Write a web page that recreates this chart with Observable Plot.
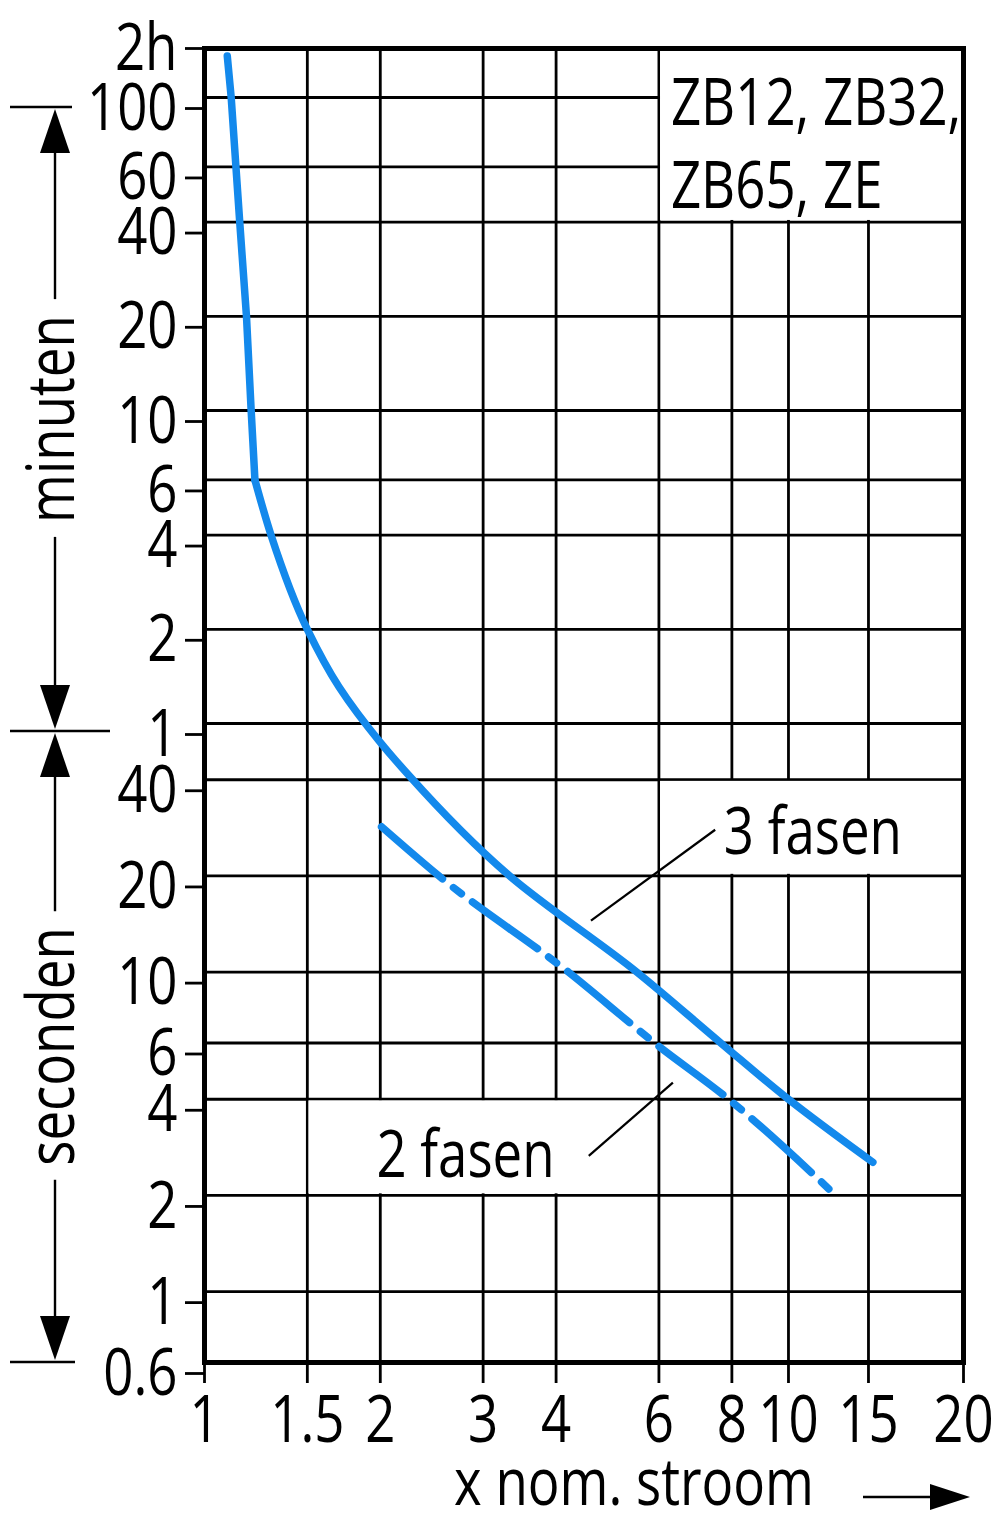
<!DOCTYPE html>
<html>
<head>
<meta charset="utf-8">
<script src="https://cdn.jsdelivr.net/npm/d3@7"></script>
<script src="https://cdn.jsdelivr.net/npm/@observablehq/plot@0.6"></script>
<style>
  html, body { margin: 0; padding: 0; background: #fff; }
  #chart svg { display: block; }
</style>
</head>
<body>
<div id="chart"></div>
<script>
// ---- axis ticks ----
const xTicks = [1, 1.5, 2, 3, 4, 6, 8, 10, 15, 20];
const xTickLabels = ["1", "1.5", "2", "3", "4", "6", "8", "10", "15", "20"];
// y ticks in seconds (0.6 s ... 2 h)
const yTicks = [0.6, 1, 2, 4, 6, 10, 20, 40, 60, 120, 240, 360, 600, 1200, 2400, 3600, 6000, 7200];
const yTickLabels = ["0.6", "1", "2", "4", "6", "10", "20", "40", "1", "2", "4", "6", "10", "20", "40", "60", "100", "2h"];

// ---- curves: multiple of nominal current vs trip time (s) ----
const threePhaseX = [1.094, 1.111, 1.132, 1.149, 1.18, 1.202, 1.22, 1.3, 1.5, 1.7, 2, 2.23, 3.33, 5.5, 7.66, 10, 15.2];
const threePhaseT = [7000, 6000, 3600, 2400, 1200, 600, 360, 240, 120, 78.5, 52.4, 41.6, 20, 10, 6, 4, 2.54];
const threePhaseKnee = 360;   // trip time where the steep branch bends
const twoPhaseX = [2.01, 2.52, 4.2, 5.9, 7.9, 12.9];
const twoPhaseT = [28.5, 20, 10, 6, 4, 1.96];

// ---- annotations ----
const legendText = "ZB12, ZB32,\nZB65, ZE";
const whiteCells = [
  {x1: 6, x2: 20, y1: 2400, y2: 7200},
  {x1: 6, x2: 20, y1: 20, y2: 40},
  {x1: 1.5, x2: 6, y1: 2, y2: 4}
];
const labelX = [6.29, 7.75, 1.97];
const labelT = [2670, 23.5, 2.28];
const labelTexts = [legendText, "3 fasen", "2 fasen"];
const leaders = [
  {x1: 4.59, y1: 14.5, x2: 7.49, y2: 27.9},
  {x1: 4.55, y1: 2.66, x2: 6.34, y2: 4.51}
];
const xAxisTitle = "x nom. stroom";
const minutesLabel = "minuten";
const secondsLabel = "seconden";

// ---- build tables ----
const threePhase = threePhaseX.map((x, i) => ({x, t: threePhaseT[i]}));
const threeUpper = threePhase.filter((d) => d.t >= threePhaseKnee);
const threeLower = threePhase.filter((d) => d.t <= threePhaseKnee);
const twoPhase = twoPhaseX.map((x, i) => ({x, t: twoPhaseT[i]}));
const labels = labelX.map((x, i) => ({x, t: labelT[i], text: labelTexts[i]}));
const xFmt = new Map(xTicks.map((v, i) => [v, xTickLabels[i]]));
const yFmt = new Map(yTicks.map((v, i) => [v, yTickLabels[i]]));
const yTop = yTicks[yTicks.length - 1];

// ---- layout ----
const W = 1000, H = 1525;
const mL = 204, mR = 37, mT = 48, mB = 163;
const pL = mL, pR = W - mR, pT = mT, pB = H - mB;
const FONT = "'Open Sans', 'Noto Sans', sans-serif";
const FS = 66;
const SX = 0.8;              // horizontal condensing of the lettering
const BLUE = "#1389ec";
const GRID = 2.8;

// piecewise log scales (the printed grid is slightly irregular at 15 and 2h)
const xRange = [pL, pL + 0.7694 * (pR - pL), pL + 0.8748 * (pR - pL), pR];
const yRange = [pB, pB - 0.4863 * (pB - pT), pB - 0.9627 * (pB - pT), pT];

const axisYOpts = {tickFormat: (d) => yFmt.get(d), tickSize: 19, tickPadding: 8, fontSize: FS, strokeWidth: GRID, label: null};
const curveStyle = {x: "x", y: "t", stroke: BLUE, strokeWidth: 7.5};

const chart = Plot.plot({
  width: W, height: H,
  marginLeft: mL, marginRight: mR, marginTop: mT, marginBottom: mB,
  style: {fontFamily: FONT, fontSize: FS + "px", color: "black", background: "white", overflow: "visible"},
  x: {type: "log", domain: [1, 10, 15, 20], range: xRange},
  y: {type: "log", domain: [0.6, 60, 6000, 7200], range: yRange},
  marks: [
    Plot.gridX(xTicks, {stroke: "black", strokeOpacity: 1, strokeWidth: GRID}),
    Plot.gridY(yTicks, {stroke: "black", strokeOpacity: 1, strokeWidth: GRID}),
    Plot.rect(whiteCells, {x1: "x1", x2: "x2", y1: "y1", y2: "y2", fill: "white", inset: 1.6}),
    Plot.frame({stroke: "black", strokeWidth: 5}),
    Plot.line(threeUpper, {...curveStyle, curve: "linear"}),
    Plot.line(threeLower, {...curveStyle, curve: "monotone-y"}),
    Plot.line(twoPhase, {...curveStyle, curve: "monotone-x", strokeDasharray: "80,14,10,14"}),
    Plot.link(leaders, {x1: "x1", y1: "y1", x2: "x2", y2: "y2", stroke: "black", strokeWidth: 2.2}),
    Plot.text(labels, {x: "x", y: "t", text: "text", textAnchor: "start", lineAnchor: "bottom", lineHeight: 1.25, fontSize: FS, fill: "black"}),
    Plot.axisX(xTicks, {tickFormat: (d) => xFmt.get(d), tickSize: 21, tickPadding: 12, fontSize: FS, strokeWidth: GRID, label: null}),
    Plot.axisY(yTicks.filter((v) => v !== yTop), {...axisYOpts, dy: 11}),
    Plot.axisY([yTop], {...axisYOpts, dy: 0})
  ]
});
document.getElementById("chart").appendChild(chart);

// condense all Plot lettering horizontally around its anchor
d3.select(chart).selectAll("text").each(function () {
  const t = this.getAttribute("transform") || "";
  this.setAttribute("transform", (t + ` scale(${SX},1)`).trim());
});

// ---- side annotations (minutes / seconds ranges, x title arrow) ----
const ys = chart.scale("y");
const svg = d3.select(chart);
const g = svg.append("g").attr("stroke", "black").attr("fill", "black");
const ax = 55;
const sepTop = ys.apply(6000) + 10;
const sepMid = ys.apply(60) + 8;
const sepBot = ys.apply(0.6);
const lw = 2.4;

function hline(y, x1, x2) {
  g.append("line").attr("x1", x1).attr("x2", x2).attr("y1", y).attr("y2", y).attr("stroke-width", lw);
}
function vline(y1, y2) {
  g.append("line").attr("x1", ax).attr("x2", ax).attr("y1", y1).attr("y2", y2).attr("stroke-width", lw);
}
function head(tip, dir) { // dir -1 = pointing up, +1 = pointing down
  const base = tip - dir * 44;
  g.append("polygon").attr("stroke", "none")
    .attr("points", `${ax},${tip} ${ax - 15},${base} ${ax + 15},${base}`);
  return base;
}
function vlabel(text, cy) {
  const t = svg.append("text")
    .attr("transform", `translate(74,${cy}) rotate(-90) scale(${SX},1)`)
    .attr("text-anchor", "middle")
    .attr("font-family", FONT).attr("font-size", FS)
    .attr("fill", "black").text(text);
  return t.node().getComputedTextLength() * SX;
}
function spanArrow(y0, y1, text) {
  const cy = (y0 + y1) / 2;
  const len = vlabel(text, cy);
  const b0 = head(y0 + 2, -1);
  const b1 = head(y1 - 2, 1);
  vline(b0, cy - len / 2 - 16);
  vline(cy + len / 2 + 14, b1);
}
hline(sepTop, 10, 72);
hline(sepMid, 10, 110);
hline(sepBot, 10, 75);
spanArrow(sepTop, sepMid, minutesLabel);
spanArrow(sepMid, sepBot, secondsLabel);

// x axis title with arrow
const titleY = pB + 143;
svg.append("text").attr("transform", `translate(634,${titleY}) scale(${SX},1)`).attr("text-anchor", "middle")
  .attr("font-family", FONT).attr("font-size", FS).attr("fill", "black").text(xAxisTitle);
const arrowY = titleY - 8;
g.append("line").attr("x1", 863).attr("x2", 940).attr("y1", arrowY).attr("y2", arrowY).attr("stroke-width", lw);
g.append("polygon").attr("stroke", "none")
  .attr("points", `${pR + 7},${arrowY} ${pR - 33},${arrowY - 13} ${pR - 33},${arrowY + 13}`);
</script>
</body>
</html>
